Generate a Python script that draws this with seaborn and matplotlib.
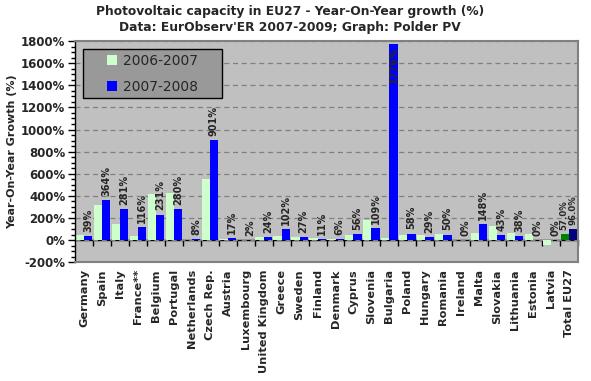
import matplotlib
matplotlib.use("Agg")
import matplotlib.pyplot as plt
from matplotlib.patches import Rectangle
from matplotlib.ticker import MultipleLocator, FuncFormatter
import numpy as np
import pandas as pd
import seaborn as sns

# ── Data ──
countries = [
    "Germany", "Spain", "Italy", "France**", "Belgium", "Portugal",
    "Netherlands", "Czech Rep.", "Austria", "Luxembourg", "United Kingdom",
    "Greece", "Sweden", "Finland", "Denmark", "Cyprus", "Slovenia",
    "Bulgaria", "Poland", "Hungary", "Romania", "Ireland", "Malta",
    "Slovakia", "Lithuania", "Estonia", "Latvia", "Total EU27",
]
growth_2006_2007 = [
    46, 318, 145, 36, 418, 427, 3, 555, 9, 1, 27,
    36, 27, 18, 9, 45, 182, 18, 45, 45, 55, 0, 64,
    127, 64, 55, -45, 57.0,
]
growth_2007_2008 = [
    39, 364, 281, 116, 231, 280, 8, 901, 17, 2, 24,
    102, 27, 11, 6, 56, 109, 1776, 58, 29, 50, 0, 148,
    43, 38, 0, 0, 96.0,
]
labels_2007_2008 = [
    "39%", "364%", "281%", "116%", "231%", "280%", "8%", "901%", "17%",
    "2%", "24%", "102%", "27%", "11%", "6%", "56%", "109%", "1776%",
    "58%", "29%", "50%", "0%", "148%", "43%", "38%", "0%", "0%", "96.0%",
]
total_label_2006_2007 = "57.0%"
periods = ["2006-2007", "2007-2008"]

PLOT_BG = "#C0C0C0"
LIGHT_GREEN = "#CCFFCC"
BLUE = "#0000FF"
TOTAL_GREEN = "#008000"
TOTAL_NAVY = "#000080"

df = pd.DataFrame({
    "country": countries * 2,
    "growth": growth_2006_2007 + growth_2007_2008,
    "period": [periods[0]] * len(countries) + [periods[1]] * len(countries),
})

sns.set_style("white")
plt.rcParams["font.family"] = ["DejaVu Sans"]

fig = plt.figure(figsize=(5.91, 3.81), dpi=100)
ax = fig.add_axes([0.127, 0.312, 0.851, 0.580])
ax.set_facecolor(PLOT_BG)

sns.barplot(
    data=df, x="country", y="growth", hue="period", ax=ax,
    palette=[LIGHT_GREEN, BLUE], width=0.92, saturation=1,
    edgecolor="none", linewidth=0, legend=True,
)

# Total EU27 in darker colours
ax.containers[0][-1].set_facecolor(TOTAL_GREEN)
ax.containers[1][-1].set_facecolor(TOTAL_NAVY)

# ── Axes ──
ax.set_ylim(-200, 1800)
ax.set_xlim(-0.5, len(countries) - 0.5)
ax.yaxis.set_major_locator(MultipleLocator(200))
ax.yaxis.set_minor_locator(MultipleLocator(50))
ax.yaxis.set_major_formatter(FuncFormatter(lambda v, p: f"{v:.0f}%"))
ax.tick_params(axis="y", which="major", length=5, width=1, color="black",
               labelsize=8.5, pad=2, left=True)
ax.tick_params(axis="y", which="minor", length=3, width=1, color="black",
               left=True)
for lab in ax.get_yticklabels():
    lab.set_fontweight("bold")
ax.grid(axis="y", which="major", color="#808080", ls=(0, (4, 3)), lw=0.9)
ax.set_axisbelow(True)

ax.set_xticks(range(len(countries)))
ax.set_xticklabels(countries, rotation=90, fontsize=8.2, fontweight="bold")
ax.tick_params(axis="x", length=0, pad=5)
ax.set_xlabel("")
ax.set_ylabel("Year-On-Year Growth (%)", fontsize=8, fontweight="bold",
              labelpad=3)

for side in ["top", "right", "bottom"]:
    ax.spines[side].set_color("#808080")
    ax.spines[side].set_linewidth(1.5)
ax.spines["left"].set_color("black")
ax.spines["left"].set_linewidth(1)

# category axis drawn at zero with boundary ticks
zero_axis = ax.secondary_xaxis(0.1)
zero_axis.set_xticks(np.arange(len(countries)) + 0.5)
zero_axis.set_xticklabels([])
zero_axis.tick_params(axis="x", length=4, width=1, color="black",
                      direction="out")
zero_axis.spines["bottom"].set_color("black")
zero_axis.spines["bottom"].set_linewidth(1)

# ── Value labels ──
for bar, txt in zip(ax.containers[1], labels_2007_2008):
    x = bar.get_x() + bar.get_width() / 2
    h = bar.get_height()
    size = 6.2 if txt.endswith(".0%") else 7
    if h > 1600:
        ax.annotate(txt, (x, h), xytext=(0, -2), textcoords="offset points",
                    rotation=90, ha="center", va="top", fontsize=size,
                    fontweight="bold")
    else:
        ax.annotate(txt, (x, max(h, 0)), xytext=(0, 3),
                    textcoords="offset points", rotation=90, ha="center",
                    va="bottom", fontsize=size, fontweight="bold")
total_bar = ax.containers[0][-1]
ax.annotate(total_label_2006_2007,
            (total_bar.get_x() + total_bar.get_width() / 2 - 0.04,
             total_bar.get_height()),
            xytext=(0, 3), textcoords="offset points", rotation=90,
            ha="center", va="bottom", fontsize=6.2, fontweight="bold")

# ── Legend (own box for the wide side padding) ──
handles = ax.get_legend().legend_handles
ax.get_legend().remove()
ax.add_patch(Rectangle((0.016, 0.742), 0.276, 0.222, transform=ax.transAxes,
                       facecolor="#999999", edgecolor="black", lw=1,
                       zorder=4))
leg = ax.legend(
    handles=handles, labels=periods, loc="center",
    bbox_to_anchor=(0.154, 0.853), frameon=False,
    fontsize=10, handlelength=0.7, handleheight=0.7, handletextpad=0.4,
    borderpad=0, labelspacing=0.85, borderaxespad=0,
)
leg.set_zorder(5)
for h in leg.legend_handles:
    h.set_edgecolor("none")

fig.suptitle(
    "Photovoltaic capacity in EU27 - Year-On-Year growth (%)\n"
    "Data: EurObserv'ER 2007-2009; Graph: Polder PV",
    fontsize=8.8, fontweight="bold", x=0.49, y=0.988, linespacing=1.35,
)

fig.savefig("out.png", dpi=100, facecolor="white")
